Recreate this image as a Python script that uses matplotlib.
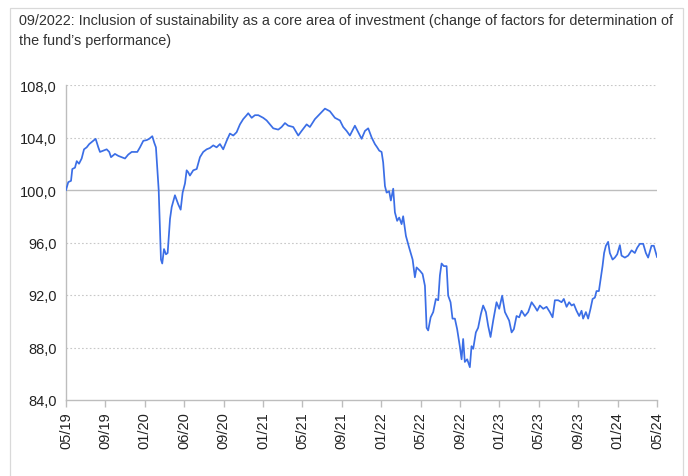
import numpy as np
import matplotlib
matplotlib.use("Agg")
import matplotlib.pyplot as plt
from matplotlib.patches import Rectangle

plt.rcParams['font.family'] = ['Liberation Sans', 'DejaVu Sans']

title = ("09/2022: Inclusion of sustainability as a core area of investment (change of factors for determination of\n"
         "the fund\u2019s performance)")

# months since 05/2019 and index value
months = [0.0, 0.23, 0.51, 0.64, 0.91, 1.09, 1.32, 1.59, 1.83, 2.10, 2.36, 2.77, 3.01, 3.28, 3.45,
          3.79, 4.13, 4.39, 4.57, 4.97, 5.31, 5.65, 5.99, 6.32, 6.67, 7.00, 7.24, 7.51, 7.85, 8.19,
          8.45, 8.76, 8.96, 9.13, 9.27, 9.41, 9.54, 9.64, 9.77, 9.95, 10.15, 10.32, 10.56, 10.73,
          11.06, 11.40, 11.64, 11.84, 12.08, 12.25, 12.41, 12.58, 12.92, 13.27, 13.60, 13.93, 14.28,
          14.61, 14.95, 15.29, 15.63, 15.96, 16.31, 16.64, 16.98, 17.32, 17.66, 17.99, 18.34, 18.50,
          18.85, 19.18, 19.52, 20.02, 20.37, 20.70, 21.04, 21.55, 21.89, 22.23, 22.56, 23.07, 23.58,
          23.92, 24.43, 24.76, 25.27, 25.78, 26.29, 26.79, 27.30, 27.81, 28.14, 28.49, 28.82, 29.33,
          29.67, 30.01, 30.35, 30.68, 31.03, 31.36, 31.59, 31.80, 32.04, 32.20, 32.38, 32.55, 32.81,
          32.98, 33.22, 33.39, 33.62, 33.83, 34.07, 34.23, 34.51, 34.84, 35.19, 35.42, 35.59, 35.93,
          36.20, 36.44, 36.61, 36.77, 37.02, 37.28, 37.55, 37.79, 37.96, 38.13, 38.36, 38.64, 38.80,
          39.04, 39.24, 39.48, 39.71, 39.98, 40.16, 40.32, 40.49, 40.73, 41.00, 41.17, 41.34, 41.61,
          41.84, 42.12, 42.35, 42.63, 42.86, 43.10, 43.37, 43.71, 43.98, 44.28, 44.56, 44.99, 45.24,
          45.47, 45.74, 46.01, 46.25, 46.59, 46.92, 47.27, 47.60, 47.84, 48.11, 48.45, 48.79, 49.12,
          49.40, 49.63, 49.97, 50.31, 50.54, 50.82, 51.08, 51.33, 51.56, 51.83, 52.10, 52.34, 52.50,
          52.78, 53.01, 53.25, 53.46, 53.69, 53.86, 54.10, 54.27, 54.47, 54.63, 54.81, 55.04, 55.21,
          55.49, 55.72, 55.96, 56.23, 56.40, 56.74, 57.07, 57.42, 57.75, 57.99, 58.26, 58.60, 58.87,
          59.10, 59.44, 59.68, 59.88, 60.0]
values = [100.0, 100.6, 100.7, 101.6, 101.7, 102.2, 102.0, 102.4, 103.1, 103.25, 103.5, 103.75, 103.9, 103.25, 102.9,
          103.0, 103.1, 102.9, 102.5, 102.75, 102.6, 102.5, 102.4, 102.7, 102.9, 102.9, 102.9, 103.25, 103.75, 103.8,
          103.9, 104.1, 103.6, 103.25, 101.6, 100.0, 97.0, 94.7, 94.4, 95.5, 95.1, 95.2, 97.8, 98.7,
          99.6, 98.9, 98.5, 99.8, 100.5, 101.5, 101.35, 101.1, 101.5, 101.6, 102.5, 102.9, 103.1,
          103.2, 103.4, 103.25, 103.5, 103.1, 103.75, 104.3, 104.15, 104.4, 105.0, 105.4, 105.7, 105.85,
          105.5, 105.7, 105.7, 105.5, 105.3, 105.0, 104.7, 104.6, 104.8, 105.1, 104.9, 104.8, 104.15,
          104.5, 105.0, 104.8, 105.4, 105.8, 106.2, 106.0, 105.5, 105.3, 104.8, 104.5, 104.15, 104.9,
          104.4, 103.9, 104.5, 104.7, 104.0, 103.5, 103.25, 103.0, 102.9, 102.1, 100.3, 99.8, 99.9,
          99.2, 100.1, 98.3, 97.65, 97.9, 97.4, 98.0, 96.5, 95.6, 94.7, 93.35, 94.1, 93.85,
          93.6, 92.7, 89.5, 89.3, 90.3, 90.7, 91.7, 91.6, 93.5, 94.4, 94.2, 94.2, 91.95,
          91.45, 90.2, 90.2, 89.4, 88.1, 87.1, 88.65, 86.9, 87.1, 86.5, 88.1, 87.9, 89.15,
          89.5, 90.55, 91.2, 90.7, 89.65, 88.8, 90.05, 91.45, 90.95, 91.95, 90.7, 90.05, 89.15,
          89.4, 90.4, 90.3, 90.8, 90.4, 90.7, 91.45, 91.1, 90.8, 91.2, 90.95, 91.1, 90.7,
          90.3, 91.6, 91.6, 91.45, 91.7, 91.1, 91.45, 91.2, 91.3, 90.8, 90.4, 90.8, 90.2,
          90.7, 90.2, 90.95, 91.7, 91.8, 92.3, 92.3, 93.2, 94.2, 95.2, 95.75, 96.05, 95.2,
          94.7, 94.85, 95.1, 95.8, 95.0, 94.85, 95.0, 95.4, 95.2, 95.6, 95.9, 95.9, 95.2,
          94.85, 95.75, 95.75, 95.2, 94.9]

tick_months = [0, 4, 8, 12, 16, 20, 24, 28, 32, 36, 40, 44, 48, 52, 56, 60]
tick_labels = ['05/19', '09/19', '01/20', '06/20', '09/20', '01/21', '05/21', '09/21',
               '01/22', '05/22', '09/22', '01/23', '05/23', '09/23', '01/24', '05/24']
y_ticks = [84, 88, 92, 96, 100, 104, 108]

fig = plt.figure(figsize=(6.88, 4.77), dpi=100)
ax = fig.add_axes([66/688, 1 - 401/477, 591/688, 315/477])

# outer frame
fig.patches.append(Rectangle((10/688, -0.05), 673/688, 1.05 - 9/477, transform=fig.transFigure,
                             fill=False, edgecolor='#d9d9d9', linewidth=0.9))

fig.text(19/688, 1 - 14/477, title, ha='left', va='top', fontsize=10.4, color='#333333',
         linespacing=1.5)

for y in y_ticks:
    if y == 100:
        ax.axhline(y, color='#bdbdbd', linewidth=1.0, zorder=1)
    elif y != 84:
        ax.axhline(y, color='#c8c8c8', linewidth=0.8, linestyle=(0, (1.5, 2)), zorder=1)

ax.plot(months, values, color='#3b6ee6', linewidth=1.25, zorder=3)

ax.set_xlim(0, 60)
ax.set_ylim(84, 108)
ax.set_yticks(y_ticks)
ax.set_yticklabels([f"{v:.1f}".replace('.', ',') for v in y_ticks])
ax.set_xticks(tick_months)
ax.set_xticklabels(tick_labels, rotation=90)

for side in ['top', 'right']:
    ax.spines[side].set_visible(False)
for side in ['left', 'bottom']:
    ax.spines[side].set_color('#bdbdbd')
    ax.spines[side].set_linewidth(1.0)

ax.tick_params(axis='y', length=0, pad=6.5, labelsize=10.5, labelcolor='#222222')
ax.tick_params(axis='x', length=5, width=1.0, color='#bdbdbd', pad=3, labelsize=10.5,
               labelcolor='#222222')

plt.savefig("out.png", dpi=100)
